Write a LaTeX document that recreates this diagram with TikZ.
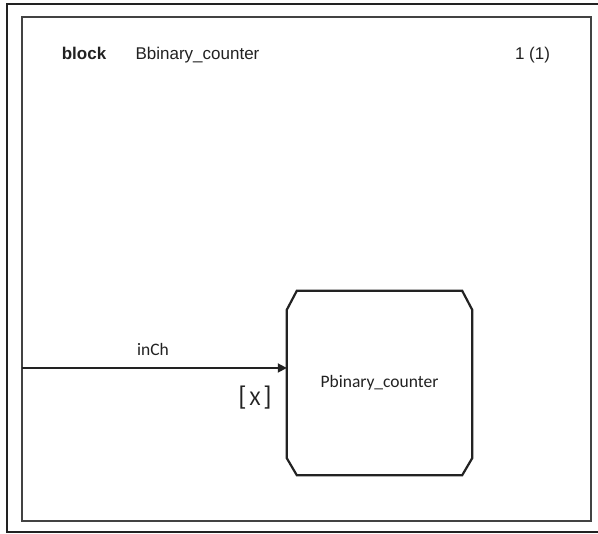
\documentclass[tikz,border=0pt]{standalone}
\usepackage{fontspec}
\setmainfont{Liberation Sans}
\newfontfamily\calfont{Carlito}
\usetikzlibrary{arrows.meta}
\definecolor{ink}{HTML}{222222}
\begin{document}
\begin{tikzpicture}[x=1pt,y=1pt,
  hdr/.style={font=\fontsize{17}{20}\selectfont, text=ink, anchor=base, inner sep=0pt},
  lbl/.style={font=\calfont\fontsize{17.5}{20}\selectfont, text=ink, inner sep=0pt},
  frameline/.style={draw=ink, line width=2pt},
  innerline/.style={draw=ink!85, line width=1.6pt},
  boxline/.style={draw=ink, line width=2.2pt, line join=miter},
  conn/.style={draw=ink, line width=1.8pt, -{Triangle[length=9pt,width=9pt]}}]
\useasboundingbox (0,0) rectangle (598,534);
\fill[white] (0,0) rectangle (598,534);
% outer frame (open on the right)
\draw[frameline] (598,530) -- (7,530) -- (7,1.5) -- (598,1.5);
% inner frame
\draw[innerline] (22,517) rectangle (591,13);
% header
\node[hdr, font=\bfseries\fontsize{17}{20}\selectfont] (kw) at (84,474) {block};
\node[hdr] (bname) at (197.5,474) {Bbinary\_counter};
\node[hdr] (page) at (532.5,474) {1 (1)};
% process box
\node[minimum width=185pt, minimum height=184pt, inner sep=0pt] (proc) at (379.5,151) {};
\draw[boxline] ([xshift=10pt]proc.north west) -- ([xshift=-10pt]proc.north east)
  -- ([yshift=-19pt]proc.north east) -- ([yshift=17pt]proc.south east)
  -- ([xshift=-10pt]proc.south east) -- ([xshift=10pt]proc.south west)
  -- ([yshift=17pt]proc.south west) -- ([yshift=-19pt]proc.north west) -- cycle;
\node[lbl] (pname) at (proc.center) {Pbinary\_counter};
% signal route
\coordinate (src) at (22,166);
\draw[conn] (src) -- (src -| proc.west);
\node[lbl] (sig) at (153,185) {inCh};
\node[lbl] (sigs) at (255,136) {{\fontsize{27}{27}\selectfont[}\,{\fontsize{21}{21}\selectfont X}\,{\fontsize{27}{27}\selectfont]}};
\end{tikzpicture}
\end{document}
